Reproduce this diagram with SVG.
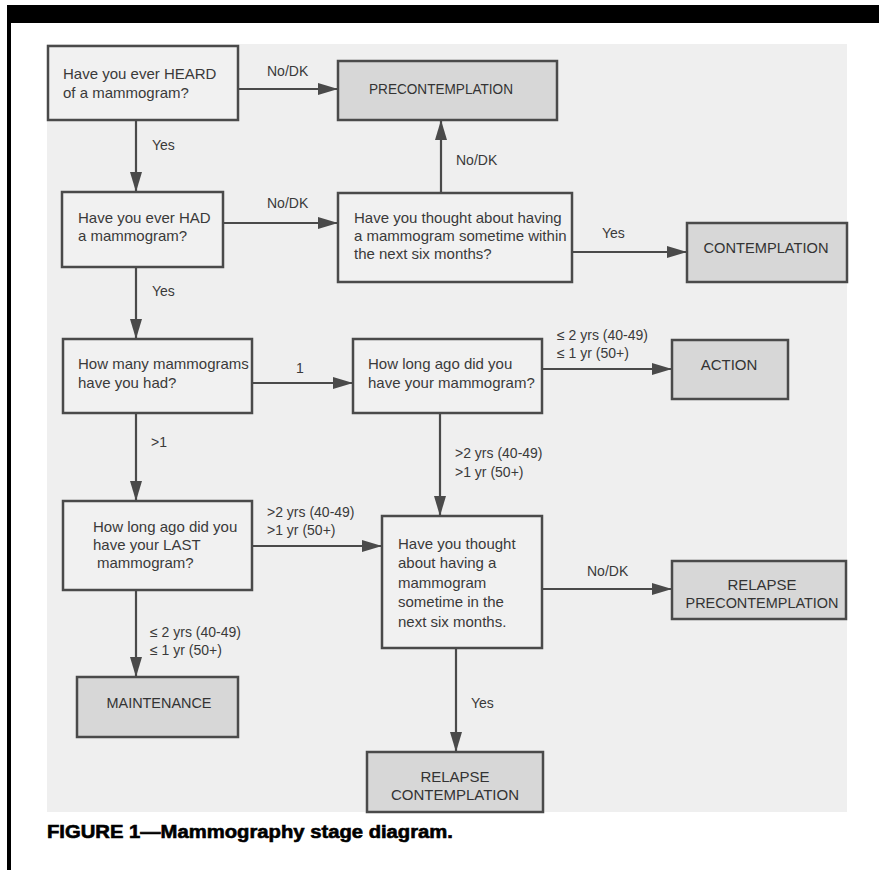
<svg xmlns="http://www.w3.org/2000/svg" width="879" height="870" viewBox="0 0 879 870">
<style>
.q{fill:#f1f1f1;stroke:#4a4a4a;stroke-width:2.5}
.s{fill:#d7d7d7;stroke:#4a4a4a;stroke-width:2.5}
text{font-family:"Liberation Sans",Arial,sans-serif;fill:#3a3a3a}
.t{font-size:15px}
.st{font-size:15px;text-anchor:middle;fill:#333}
.l{font-size:14px}
.c line{stroke:#4a4a4a;stroke-width:2.2;marker-end:url(#ah)}
</style>
<defs>
<marker id="ah" viewBox="0 0 20 12" refX="20" refY="6" markerWidth="20" markerHeight="12" markerUnits="userSpaceOnUse" orient="auto">
<path d="M0,0 L20,6 L0,12 Z" fill="#4a4a4a"/>
</marker>
</defs>
<rect x="0" y="0" width="879" height="870" fill="#ffffff"/>
<rect x="7" y="5" width="872" height="18" fill="#000"/>
<rect x="7" y="5" width="4" height="865" fill="#000"/>
<rect x="47" y="44" width="800" height="768" fill="#efefef"/>

<g class="c" id="connectors">
<line x1="238" y1="89" x2="338" y2="89"/>
<line x1="136" y1="120" x2="136" y2="192"/>
<line x1="223" y1="223" x2="338" y2="223"/>
<line x1="441" y1="193" x2="441" y2="120"/>
<line x1="572" y1="252" x2="687" y2="252"/>
<line x1="136" y1="267" x2="136" y2="339"/>
<line x1="252" y1="383" x2="353" y2="383"/>
<line x1="542" y1="369" x2="672" y2="369"/>
<line x1="440" y1="413" x2="440" y2="516"/>
<line x1="136" y1="413" x2="136" y2="501"/>
<line x1="252" y1="546" x2="382" y2="546"/>
<line x1="542" y1="589" x2="672" y2="589"/>
<line x1="456" y1="648" x2="456" y2="752"/>
<line x1="136" y1="590" x2="136" y2="677"/>
<text class="l" x="267" y="76">No/DK</text>
<text class="l" x="152" y="150">Yes</text>
<text class="l" x="267" y="208">No/DK</text>
<text class="l" x="456" y="165">No/DK</text>
<text class="l" x="602" y="238">Yes</text>
<text class="l" x="152" y="296">Yes</text>
<text class="l" x="296" y="373">1</text>
<text class="l" x="557" y="340">≤ 2 yrs (40-49)</text>
<text class="l" x="557" y="358">≤ 1 yr (50+)</text>
<text class="l" x="455" y="458">&gt;2 yrs (40-49)</text>
<text class="l" x="455" y="477">&gt;1 yr (50+)</text>
<text class="l" x="151" y="447">&gt;1</text>
<text class="l" x="267" y="517">&gt;2 yrs (40-49)</text>
<text class="l" x="267" y="535">&gt;1 yr (50+)</text>
<text class="l" x="587" y="576">No/DK</text>
<text class="l" x="471" y="708">Yes</text>
<text class="l" x="150" y="637">≤ 2 yrs (40-49)</text>
<text class="l" x="150" y="655">≤ 1 yr (50+)</text>
</g>

<g id="heard">
<rect class="q" x="48" y="46" width="190" height="74"/>
<text class="t" x="63" y="79">Have you ever HEARD</text>
<text class="t" x="63" y="98">of a mammogram?</text>
</g>
<g id="precontemplation">
<rect class="s" x="338" y="61" width="219" height="59"/>
<text class="st" x="441" y="94" textLength="144" lengthAdjust="spacingAndGlyphs">PRECONTEMPLATION</text>
</g>
<g id="had">
<rect class="q" x="62" y="192" width="161" height="75"/>
<text class="t" x="78" y="223">Have you ever HAD</text>
<text class="t" x="78" y="241">a mammogram?</text>
</g>
<g id="thought1">
<rect class="q" x="338" y="193" width="234" height="89"/>
<text class="t" x="354" y="223">Have you thought about having</text>
<text class="t" x="354" y="241">a mammogram sometime within</text>
<text class="t" x="354" y="259">the next six months?</text>
</g>
<g id="contemplation">
<rect class="s" x="687" y="223" width="160" height="59"/>
<text class="st" x="766" y="253" textLength="125" lengthAdjust="spacingAndGlyphs">CONTEMPLATION</text>
</g>
<g id="howmany">
<rect class="q" x="63" y="339" width="189" height="74"/>
<text class="t" x="78" y="369">How many mammograms</text>
<text class="t" x="78" y="388">have you had?</text>
</g>
<g id="howlong1">
<rect class="q" x="353" y="339" width="189" height="74"/>
<text class="t" x="368" y="369">How long ago did you</text>
<text class="t" x="368" y="388">have your mammogram?</text>
</g>
<g id="action">
<rect class="s" x="672" y="340" width="116" height="59"/>
<text class="st" x="729" y="370">ACTION</text>
</g>
<g id="howlonglast">
<rect class="q" x="63" y="501" width="189" height="89"/>
<text class="t" x="93" y="532">How long ago did you</text>
<text class="t" x="93" y="550">have your LAST</text>
<text class="t" x="97" y="568">mammogram?</text>
</g>
<g id="thought2">
<rect class="q" x="382" y="516" width="160" height="132"/>
<text class="t" x="398" y="549">Have you thought</text>
<text class="t" x="398" y="568">about having a</text>
<text class="t" x="398" y="588">mammogram</text>
<text class="t" x="398" y="607">sometime in the</text>
<text class="t" x="398" y="627">next six months.</text>
</g>
<g id="relapseprecontemplation">
<rect class="s" x="672" y="561" width="174" height="58"/>
<text class="st" x="762" y="590">RELAPSE</text>
<text class="st" x="762" y="608" textLength="153" lengthAdjust="spacingAndGlyphs">PRECONTEMPLATION</text>
</g>
<g id="maintenance">
<rect class="s" x="77" y="677" width="161" height="60"/>
<text class="st" x="159" y="708" textLength="105" lengthAdjust="spacingAndGlyphs">MAINTENANCE</text>
</g>
<g id="relapsecontemplation">
<rect class="s" x="367" y="752" width="176" height="60"/>
<text class="st" x="455" y="782">RELAPSE</text>
<text class="st" x="455" y="800">CONTEMPLATION</text>
</g>
<text x="47" y="838" font-size="18" font-weight="bold" style="fill:#000;stroke:#000;stroke-width:0.6" textLength="406" lengthAdjust="spacingAndGlyphs">FIGURE 1—Mammography stage diagram.</text>
</svg>
